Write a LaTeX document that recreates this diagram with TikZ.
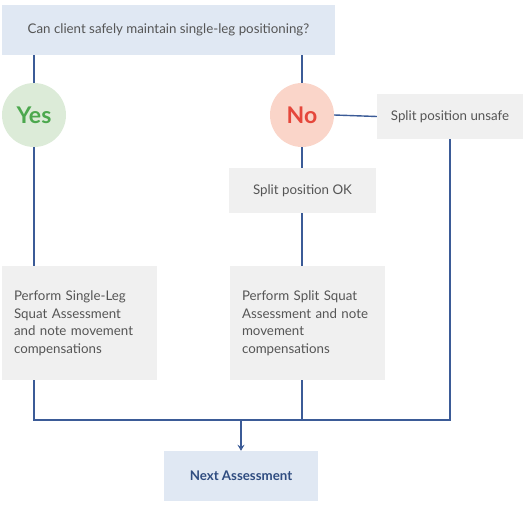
\documentclass[tikz,border=0pt]{standalone}
\usepackage{fontspec}
\setmainfont{Lato}
\usetikzlibrary{positioning,calc,arrows.meta}
\definecolor{flowBlueLine}{HTML}{3B5B97}
\definecolor{flowBlueFill}{HTML}{E0E8F3}
\definecolor{flowGreyFill}{HTML}{F0F0F0}
\definecolor{flowGreyText}{HTML}{555555}
\definecolor{flowGreenFill}{HTML}{DCEBD8}
\definecolor{flowGreenText}{HTML}{4CA84E}
\definecolor{flowRedFill}{HTML}{FAD5C9}
\definecolor{flowRedText}{HTML}{E5473B}
\definecolor{flowNavyText}{HTML}{2F4C80}

\begin{document}
\begin{tikzpicture}[x=1pt, y=-1pt,
  qbox/.style={fill=flowBlueFill, inner sep=0pt, font=\fontsize{13.3}{15}\selectfont,
    text=flowGreyText},
  sbox/.style={fill=flowGreyFill, inner sep=0pt, font=\fontsize{13.3}{15}\selectfont,
    text=flowGreyText},
  tbox/.style={fill=flowGreyFill, inner sep=12pt, align=left, text width=131pt,
    font=\fontsize{13.3}{17.5}\selectfont, text=flowGreyText},
  answer/.style={circle, minimum size=64pt, inner sep=0pt,
    font=\fontsize{23}{26}\selectfont\bfseries},
  link/.style={draw=flowBlueLine, line width=1.4pt}]
\useasboundingbox (0,0) rectangle (531,505);

% question and answers
\node[qbox, minimum width=333pt, minimum height=50pt] (question) at (168.5,30)
  {Can client safely maintain single-leg positioning?};
\node[answer, fill=flowGreenFill, text=flowGreenText] (yes) at (34,115) {Yes};
\node[answer, fill=flowRedFill, text=flowRedText] (no) at (302,115) {No};

% split position
\node[sbox, minimum width=146pt, minimum height=45pt] (unsafe) at (450,116.5)
  {Split position unsafe};
\node[sbox, minimum width=147pt, minimum height=45pt] (splitok) at (302.5,190.5)
  {Split position OK};

% assessments
\node[tbox, minimum height=114pt] (single) at (79.5,323)
  {Perform Single-Leg\\Squat Assessment\\and note movement\\compensations};
\node[tbox, minimum height=114pt] (split) at (307.5,323)
  {Perform Split Squat\\Assessment and note\\movement\\compensations};
\node[qbox, minimum width=154pt, minimum height=50pt, text=flowNavyText,
  font=\fontsize{13.3}{15}\selectfont\bfseries] (next) at (241,476) {Next Assessment};

\coordinate (join) at (241,420);

% connectors
\draw[link] (question.south -| yes) -- (yes.north);
\draw[link] (question.south -| no) -- (no.north);
\draw[link] (yes.south) -- (single.north -| yes);
\draw[link] (no.east) -- (unsafe.west);
\draw[link] (no.south) -- (splitok.north -| no);
\draw[link] (splitok.south -| no) -- (split.north -| no);
\draw[link] (single.south -| yes) -- (join -| yes) -- (join -| unsafe) -- (unsafe.south);
\draw[link] (split.south -| no) -- (join -| no);
\draw[link, -{Stealth[length=6pt, width=7pt]}] (join) -- (next.north);
\end{tikzpicture}
\end{document}
